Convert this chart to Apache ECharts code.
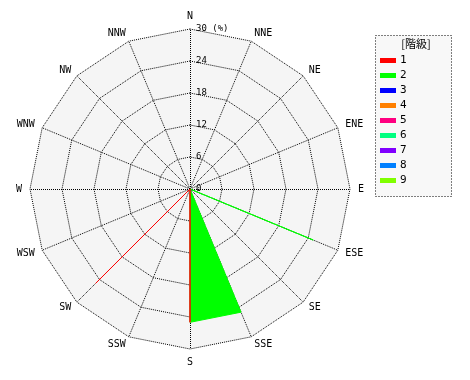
<!DOCTYPE html>
<html><head><meta charset="utf-8">
<script src="https://cdn.jsdelivr.net/npm/echarts@6/dist/echarts.min.js"></script>
<style>html,body{margin:0;padding:0;background:#fff}#c{width:470px;height:380px}</style>
</head><body><div id="c"></div>
<script>
// directions, clockwise from north
var directions = ['N','NNE','NE','ENE','E','ESE','SE','SSE','S','SSW','SW','WSW','W','WNW','NW','NNW'];
var classNames = ['1','2','3','4','5','6','7','8','9'];
var classColors = ['#ff0000','#00ff00','#0000ff','#ff8000','#ff0080','#00ff80','#8000ff','#0080ff','#80ff00'];
var axisMax = 30;
var axisStep = 6;
// frequency (%) per direction, clockwise from N
var class1 = [0,0,0,0,0,0,0,0,25,0,25,0,0,0,0,0];
var class2 = [0,0,0,0,0,25,0,25,25,0,0,0,0,0,0,0];
var class3 = [0,0,0,0,0,0,0,0,0,0,0,0,0,0,0,0];
var class4 = [0,0,0,0,0,0,0,0,0,0,0,0,0,0,0,0];
var class5 = [0,0,0,0,0,0,0,0,0,0,0,0,0,0,0,0];
var class6 = [0,0,0,0,0,0,0,0,0,0,0,0,0,0,0,0];
var class7 = [0,0,0,0,0,0,0,0,0,0,0,0,0,0,0,0];
var class8 = [0,0,0,0,0,0,0,0,0,0,0,0,0,0,0,0];
var class9 = [0,0,0,0,0,0,0,0,0,0,0,0,0,0,0,0];
var classData = [class1,class2,class3,class4,class5,class6,class7,class8,class9];

// radar indicators run counter-clockwise: reorder
var order = [0];
for (var i = 15; i >= 1; i--) order.push(i);
function reorder(arr){ return order.map(function(k){ return arr[k]; }); }

var indicators = order.map(function(k, idx){
  var ind = { name: directions[k], max: axisMax, min: 0 };
  if (idx === 0) ind.axisLabel = { show: true };
  return ind;
});

var series = classNames.map(function(n, i){
  return {
    type: 'radar',
    name: n,
    symbol: 'none',
    z: i === 0 ? 5 : 2,
    lineStyle: { color: classColors[i], width: 1 },
    areaStyle: { color: classColors[i], opacity: 1 },
    itemStyle: { color: classColors[i] },
    data: [{ value: reorder(classData[i]), name: n }]
  };
});

var chart = echarts.init(document.getElementById('c'), null, {renderer:'canvas'});
chart.setOption({
  animation: false,
  backgroundColor: '#ffffff',
  radar: {
    center: [190, 189],
    radius: 160,
    startAngle: 90,
    splitNumber: axisMax / axisStep,
    indicator: indicators,
    nameGap: 8,
    axisName: { color: '#000', fontSize: 10, fontFamily: 'DejaVu Sans Mono' },
    splitArea: { show: true, areaStyle: { color: ['#f5f5f5'] } },
    splitLine: { lineStyle: { color: '#000', type: [1,1], width: 1, cap: 'butt' } },
    axisLine: { lineStyle: { color: '#000', type: [1,1], width: 1, cap: 'butt' } },
    axisTick: { show: false },
    axisLabel: {
      show: false, color: '#000', fontSize: 9, fontFamily: 'DejaVu Sans Mono',
      margin: -6, align: 'left', verticalAlign: 'middle', padding: [0,0,4,0],
      formatter: function(v){ return v === axisMax ? v + ' (%)' : String(v); }
    }
  },
  legend: {
    orient: 'vertical',
    left: 375, top: 53,
    padding: [0,0,0,5],
    itemWidth: 16, itemHeight: 5, itemGap: 0,
    icon: 'rect',
    data: classNames,
    textStyle: { color: '#000', fontSize: 11, fontFamily: 'DejaVu Sans Mono', lineHeight: 15, padding: [0,0,0,-1] }
  },
  graphic: [
    { type: 'rect', shape: { x: 375.5, y: 35.5, width: 76, height: 161 },
      style: { fill: '#f8f8f8', stroke: '#000', lineDash: [1,2], lineWidth: 1 }, z: -1 },
    { type: 'text', x: 416, y: 44, style: { text: '[階級]', fill: '#000', font: '11px "Noto Sans CJK JP"', align: 'center', verticalAlign: 'middle' }, z: 10 }
  ],
  series: series
});
</script></body></html>
